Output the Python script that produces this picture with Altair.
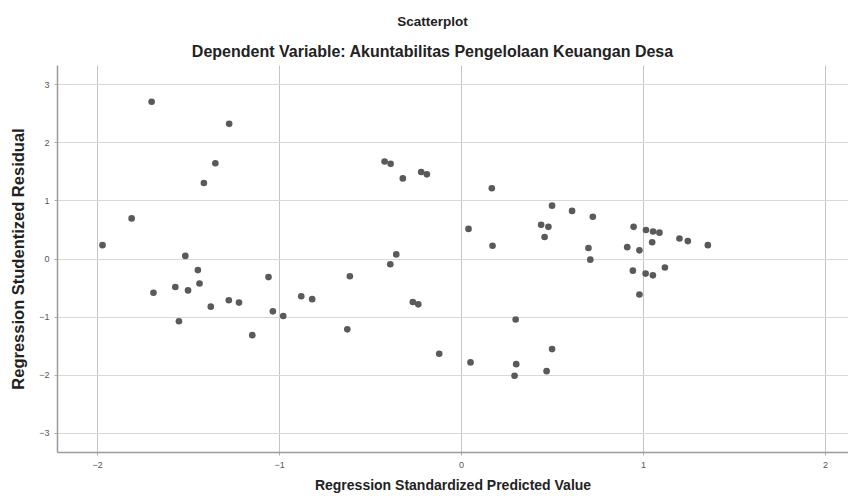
import altair as alt
import pandas as pd

pred = [-1.97, -1.81, -1.70, -1.69, -1.57, -1.55, -1.50, -1.515, -1.446, -1.437,
        -1.375, -1.413, -1.35, -1.274, -1.276, -1.22, -1.147, -1.058, -1.034, -0.977,
        -0.878, -0.818, -0.625, -0.611, -0.389, -0.356, -0.265, -0.235, -0.12, 0.052,
        0.30, 0.303, 0.294, 0.50, 0.47, -0.42, -0.387, -0.32, -0.219, -0.188,
        0.169, 0.041, 0.173, 0.50, 0.61, 0.44, 0.48, 0.459, 0.724, 0.70,
        0.71, 0.948, 1.016, 1.055, 1.09, 0.913, 0.98, 1.05, 1.20, 1.246,
        1.356, 0.944, 1.014, 1.054, 1.12, 0.98]
resid = [0.23, 0.69, 2.70, -0.59, -0.49, -1.08, -0.55, 0.045, -0.20, -0.43,
         -0.83, 1.30, 1.64, 2.32, -0.72, -0.76, -1.32, -0.32, -0.91, -0.99,
         -0.65, -0.70, -1.22, -0.305, -0.10, 0.07, -0.75, -0.79, -1.64, -1.79,
         -1.05, -1.82, -2.02, -1.56, -1.94, 1.67, 1.63, 1.38, 1.49, 1.45,
         1.21, 0.51, 0.22, 0.91, 0.82, 0.58, 0.545, 0.37, 0.72, 0.18,
         -0.02, 0.545, 0.49, 0.465, 0.445, 0.195, 0.14, 0.28, 0.345, 0.30,
         0.23, -0.21, -0.26, -0.29, -0.155, -0.62]

x_ticks = [-2, -1, 0, 1, 2]
y_ticks = [-3, -2, -1, 0, 1, 2, 3]

df = pd.DataFrame({"pred": pred, "resid": resid})

chart = alt.Chart(df).mark_circle(size=44, color="#5a5a5a", opacity=1).encode(
    x=alt.X("pred:Q",
            scale=alt.Scale(domain=[-2.22, 2.126], nice=False, zero=False),
            axis=alt.Axis(values=x_ticks, title="Regression Standardized Predicted Value",
                          format="d", gridColor="#c4c4c4", labelPadding=5,
                          titleFontSize=14, titlePadding=9)),
    y=alt.Y("resid:Q",
            scale=alt.Scale(domain=[-3.333, 3.333], nice=False, zero=False),
            axis=alt.Axis(values=y_ticks, title="Regression Studentized Residual",
                          format="d", gridColor="#d8d8d8", labelPadding=5,
                          titleFontSize=16.5, titlePadding=12)),
).properties(
    width=791,
    height=387,
    autosize=alt.AutoSizeParams(type="none"),
    padding={"left": 49, "top": 57, "right": 0, "bottom": 42},
    title=alt.TitleParams(
        text="Scatterplot",
        subtitle="Dependent Variable: Akuntabilitas Pengelolaan Keuangan Desa",
        anchor="middle",
        dx=-20,
        font="Liberation Sans",
        fontSize=13.5,
        fontWeight="bold",
        color="#222222",
        subtitleFont="Liberation Sans",
        subtitleFontSize=16,
        subtitleFontWeight="bold",
        subtitleColor="#222222",
        subtitlePadding=16,
        offset=5,
    ),
).configure_view(stroke=None).configure_axis(
    domainColor="#9a9a9a",
    domainWidth=1.5,
    tickColor="#b0b0b0",
    tickSize=3,
    labelFont="Liberation Sans",
    labelFontSize=9,
    labelColor="#555555",
    titleFont="Liberation Sans",
    titleFontWeight="bold",
    titleColor="#222222",
    gridWidth=1,
)

chart.save("out.html", embed_options={"renderer": "svg", "actions": False})
